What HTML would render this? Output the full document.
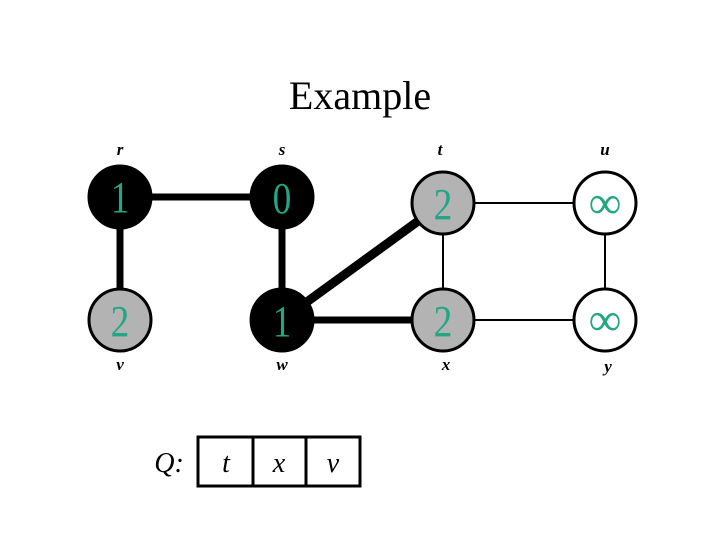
<!DOCTYPE html>
<html><head><meta charset="utf-8"><style>body{margin:0;background:#fff}svg{display:block}</style></head><body>
<svg width="720" height="540" viewBox="0 0 720 540" xmlns="http://www.w3.org/2000/svg" font-family="Liberation Serif, serif">
<rect width="720" height="540" fill="#fff"/>
<text x="360" y="109" font-size="40" text-anchor="middle">Example</text>
<g stroke="#000" fill="none">
<line x1="120" y1="197" x2="282" y2="197" stroke-width="7"/>
<line x1="120" y1="197" x2="120" y2="320" stroke-width="7"/>
<line x1="282" y1="197" x2="282" y2="320" stroke-width="7"/>
<line x1="282" y1="320" x2="443" y2="203" stroke-width="9"/>
<line x1="282" y1="320" x2="443" y2="320" stroke-width="7"/>
<line x1="443" y1="203" x2="443" y2="320" stroke-width="2"/>
<line x1="443" y1="203" x2="605" y2="203" stroke-width="2"/>
<line x1="443" y1="320" x2="605" y2="320" stroke-width="2"/>
<line x1="605" y1="203" x2="605" y2="320" stroke-width="2"/>
</g>
<g stroke="#000" stroke-width="3">
<circle cx="120" cy="197" r="31" fill="#000"/>
<circle cx="282" cy="197" r="31" fill="#000"/>
<circle cx="443" cy="203" r="31" fill="#b3b3b3"/>
<circle cx="605" cy="203" r="31" fill="#fff"/>
<circle cx="120" cy="320" r="31" fill="#b3b3b3"/>
<circle cx="282" cy="320" r="31" fill="#000"/>
<circle cx="443" cy="320" r="31" fill="#b3b3b3"/>
<circle cx="605" cy="320" r="31" fill="#fff"/>
</g>
<g fill="#22a683" font-size="44" text-anchor="middle">
<text x="120" y="212" transform="translate(120 0) scale(0.85 1) translate(-120 0)">1</text>
<text x="282" y="213" transform="translate(282 0) scale(0.85 1) translate(-282 0)">0</text>
<text x="443" y="219" transform="translate(443 0) scale(0.85 1) translate(-443 0)">2</text>
<text x="605" y="218" font-size="46">∞</text>
<text x="120" y="336" transform="translate(120 0) scale(0.85 1) translate(-120 0)">2</text>
<text x="282" y="336" transform="translate(282 0) scale(0.85 1) translate(-282 0)">1</text>
<text x="443" y="336" transform="translate(443 0) scale(0.85 1) translate(-443 0)">2</text>
<text x="605" y="335" font-size="46">∞</text>
</g>
<g font-size="17" font-style="italic" font-weight="bold" text-anchor="middle">
<text x="120" y="155">r</text>
<text x="282" y="155">s</text>
<text x="440" y="155">t</text>
<text x="605" y="155">u</text>
<text x="120" y="370">v</text>
<text x="282" y="370">w</text>
<text x="446" y="370">x</text>
<text x="608" y="372">y</text>
</g>
<g stroke="#000" stroke-width="3" fill="none">
<rect x="198" y="437" width="162" height="49"/>
<line x1="253" y1="437" x2="253" y2="486"/>
<line x1="306" y1="437" x2="306" y2="486"/>
</g>
<g font-size="28" font-style="italic" text-anchor="middle">
<text x="169" y="472">Q:</text>
<text x="226" y="472">t</text>
<text x="279" y="472">x</text>
<text x="333" y="472">v</text>
</g>
</svg>
</body></html>
